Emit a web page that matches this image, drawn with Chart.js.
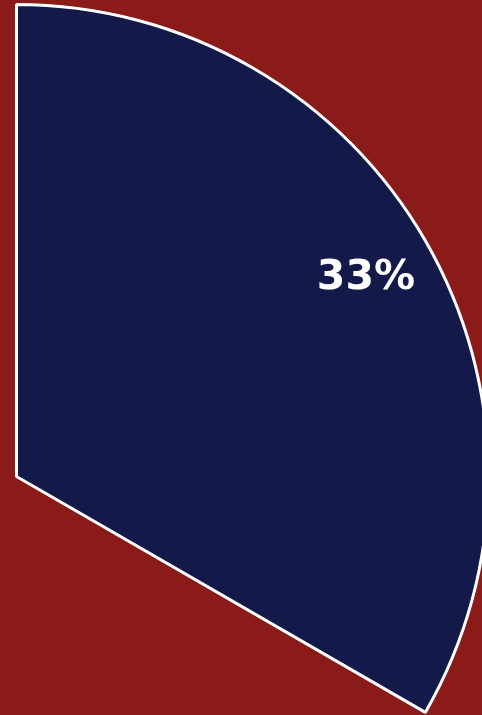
<!DOCTYPE html>
<html>
<head>
<meta charset="utf-8">
<script src="https://cdn.jsdelivr.net/npm/chart.js@4/dist/chart.umd.min.js"></script>
<style>
html,body{margin:0;padding:0;width:482px;height:715px;overflow:hidden;background:#8A1B19;}
#wrap{position:absolute;left:-484px;top:-24px;width:1001px;height:1001px;}
</style>
</head>
<body>
<div id="wrap"><canvas id="c" width="1001" height="1001"></canvas></div>
<script>
const labels = ['Share', 'Rest'];
const values = [33.33, 66.67];
const percentLabels = ['33%', ''];

const labelPlugin = {
  id: 'sliceLabels',
  afterDatasetsDraw(chart) {
    const ctx = chart.ctx;
    const meta = chart.getDatasetMeta(0);
    meta.data.forEach((arc, i) => {
      const txt = percentLabels[i];
      if (!txt) return;
      const p = arc.getProps(['x','y','startAngle','endAngle','outerRadius'], true);
      const mid = (p.startAngle + p.endAngle) / 2;
      const r = p.outerRadius * 0.85;
      ctx.save();
      ctx.fillStyle = '#ffffff';
      ctx.font = 'bold 41px "DejaVu Sans", sans-serif';
      ctx.textAlign = 'center';
      ctx.textBaseline = 'middle';
      ctx.fillText(txt, p.x + Math.cos(mid) * r + 2, p.y + Math.sin(mid) * r + 2);
      ctx.restore();
    });
  }
};

new Chart(document.getElementById('c'), {
  type: 'pie',
  data: {
    labels: labels,
    datasets: [{
      data: values,
      backgroundColor: ['#131A4A', 'rgba(0,0,0,0)'],
      borderColor: '#ffffff',
      borderWidth: [3, 0]
    }]
  },
  options: {
    responsive: false,
    animation: false,
    radius: 472,
    layout: { padding: 0 },
    plugins: { legend: { display: false }, tooltip: { enabled: false } }
  },
  plugins: [labelPlugin]
});
</script>
</body>
</html>
